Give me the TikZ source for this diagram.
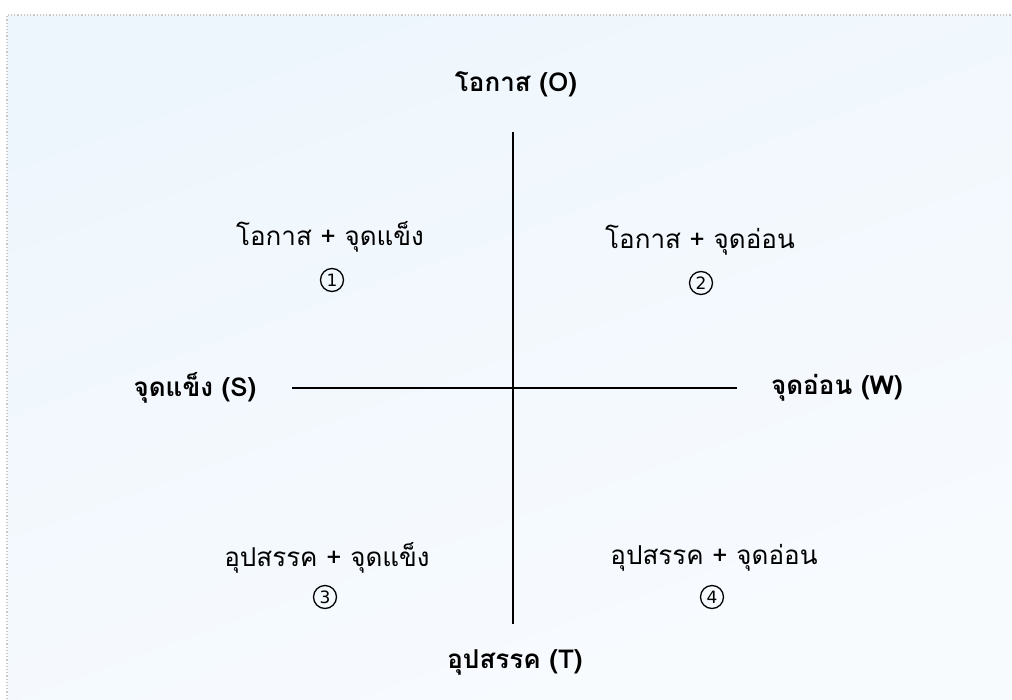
\documentclass[tikz,border=0pt]{standalone}
\usepackage{fontspec}
\usepackage{tikz}
\usepackage{xcolor}
\usetikzlibrary{positioning}
\setmainfont[Script=Thai]{Loma}
\newfontfamily\numfont{DejaVu Sans}
\definecolor{paleblue}{HTML}{EEF6FD}
\definecolor{paleend}{HTML}{F8FBFE}
\definecolor{dotgray}{HTML}{C8C8C8}
\tikzstyle{axislabel} = [font=\fontsize{26}{30}\selectfont\bfseries, inner sep=0pt]
\tikzstyle{quadtext} = [font=\fontsize{26}{30}\selectfont, inner sep=0pt]
\tikzstyle{quadnum} = [circle, draw=black, line width=1.3pt, minimum size=23pt, inner sep=0pt,
                       font=\fontsize{17}{17}\numfont]
\tikzstyle{axis} = [line width=2pt, black]

\begin{document}
\begin{tikzpicture}[x=1pt, y=-1pt]
    \useasboundingbox (0,0) rectangle (1012,699);
    % Frame
    \shade[top color=paleblue, bottom color=paleend, shading angle=20] (7,15) rectangle (1012,699);
    \draw[dotgray, line width=1.2pt, dotted] (7,699) -- (7,15) -- (1012,15);

    % Axes
    \coordinate (top) at (513,132);
    \coordinate (bottom) at (513,624);
    \coordinate (left) at (292,388);
    \coordinate (right) at (737,388);
    \draw[axis] (top) -- (bottom);
    \draw[axis] (left) -- (right);

    % Axis labels
    \node[axislabel] (opp) at (516,84) {โอกาส (O)};
    \node[axislabel] (str) at (195,388) {จุดแข็ง (S)};
    \node[axislabel] (weak) at (837,388) {จุดอ่อน (W)};
    \node[axislabel] (thr) at (515,662) {อุปสรรค (T)};

    % Quadrants
    \node[quadtext] (so) at (330,237) {โอกาส + จุดแข็ง};
    \node[quadnum] (n1) at (332,280) {1};
    \node[quadtext] (wo) at (700,240) {โอกาส + จุดอ่อน};
    \node[quadnum] (n2) at (701,283) {2};
    \node[quadtext] (st) at (327,558) {อุปสรรค + จุดแข็ง};
    \node[quadnum] (n3) at (325,597) {3};
    \node[quadtext] (wt) at (714,558) {อุปสรรค + จุดอ่อน};
    \node[quadnum] (n4) at (712,597) {4};
\end{tikzpicture}
\end{document}
